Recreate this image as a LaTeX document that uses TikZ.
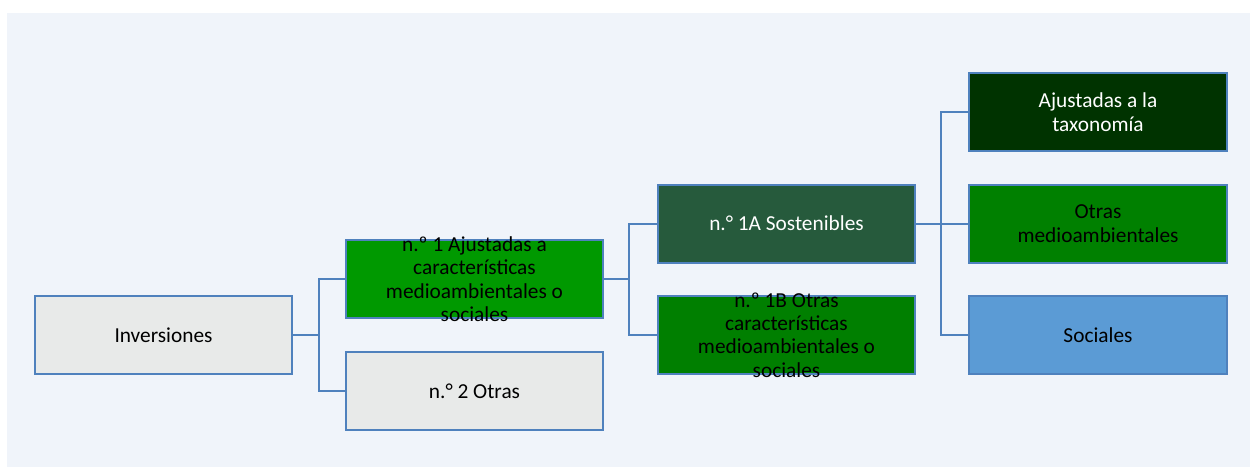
\documentclass[tikz,border=0pt]{standalone}
\usepackage{fontspec}
\setmainfont{Carlito}
\usepackage{xcolor}
\usepackage{tikz}
\usetikzlibrary{positioning, calc}
\definecolor{panelbg}{HTML}{F0F4FA}
\definecolor{edgeblue}{HTML}{4F81BD}
\definecolor{boxgray}{HTML}{E8EAE9}
\definecolor{greenone}{HTML}{009900}
\definecolor{greenonea}{HTML}{265A3C}
\definecolor{greenoneb}{HTML}{007F00}
\definecolor{greentax}{HTML}{003300}
\definecolor{greenenv}{HTML}{008000}
\definecolor{socblue}{HTML}{5B9BD5}
\tikzset{invbox/.style={draw=edgeblue, line width=1.5pt, minimum width=193pt, minimum height=58.5pt, inner sep=0pt},
         invtext/.style={align=center, inner sep=0pt},
         branch/.style={draw=edgeblue, line width=1.5pt}
        }
\begin{document}
\begin{tikzpicture}[x=0.75pt,y=-0.75pt,font=\fontsize{16pt}{17.6pt}\selectfont]
\useasboundingbox (0,0) rectangle (1257,468);
\fill[panelbg] (7,13) rectangle (1250,467);
\node[invbox, fill=boxgray] at (163.5,335)(inv){};
\node[invbox, fill=greenone] at (474.5,279)(one){};
\node[invbox, fill=boxgray] at (474.5,391)(two){};
\node[invbox, fill=greenonea] at (786.5,223.5)(onea){};
\node[invbox, fill=greenoneb] at (786.5,335)(oneb){};
\node[invbox, fill=greentax] at (1098,112)(tax){};
\node[invbox, fill=greenenv] at (1098,223.5)(env){};
\node[invbox, fill=socblue] at (1098,335)(soc){};
\node[invtext] at (inv)(inv-t){Inversiones};
\node[invtext] at (one)(one-t){n.º 1 Ajustadas a\\características\\medioambientales o\\sociales};
\node[invtext] at (two)(two-t){n.° 2 Otras};
\node[invtext, text=white] at (onea)(onea-t){n.° 1A Sostenibles};
\node[invtext] at (oneb)(oneb-t){n.º 1B Otras\\características\\medioambientales o\\sociales};
\node[invtext, text=white] at (tax)(tax-t){Ajustadas a la\\taxonomía};
\node[invtext] at (env)(env-t){Otras\\medioambientales};
\node[invtext] at (soc)(soc-t){Sociales};
\draw[branch] (inv.east) -- ++(26,0) |- (one.west);
\draw[branch] (inv.east) -- ++(26,0) |- (two.west);
\draw[branch] (one.east) -- ++(25,0) |- (onea.west);
\draw[branch] (one.east) -- ++(25,0) |- (oneb.west);
\draw[branch] (onea.east) -- ++(25,0) |- (tax.west);
\draw[branch] (onea.east) -- (env.west);
\draw[branch] (onea.east) -- ++(25,0) |- (soc.west);
\end{tikzpicture}
\end{document}
